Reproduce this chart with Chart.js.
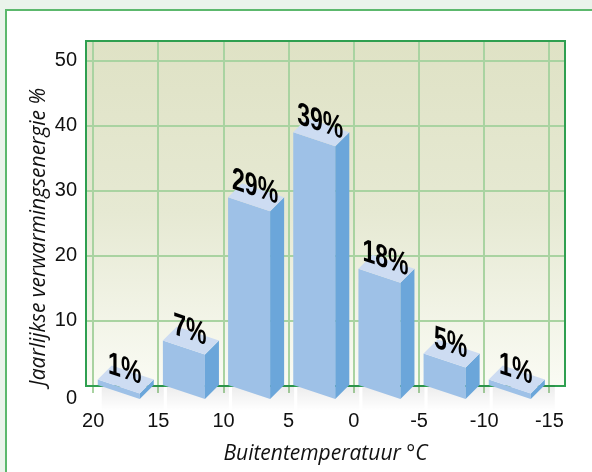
<!DOCTYPE html>
<html>
<head>
<meta charset="utf-8">
<script src="https://cdn.jsdelivr.net/npm/chart.js@4/dist/chart.umd.min.js"></script>
<style>
  html, body { margin: 0; padding: 0; background: #eaf3eb; }
  canvas { display: block; }
</style>
</head>
<body>
<canvas id="heat-chart" width="592" height="472"></canvas>
<script>
// Data
const tempEdges = [20, 15, 10, 5, 0, -5, -10, -15];   // °C, bar boundaries / x ticks
const shares = [1, 7, 29, 39, 18, 5, 1];               // % of yearly heating energy
const shareLabels = ["1%", "7%", "29%", "39%", "18%", "5%", "1%"];
const yLabelValues = [0, 10, 20, 30, 40, 50];

const gridGreen = "#a9d3a1";
const borderGreen = "#2f9f50";

// Bars sit in the middle of each temperature band
const barPoints = shares.map((v, i) => ({ x: (tempEdges[i] + tempEdges[i + 1]) / 2, y: v }));

// Background: light green page, white panel, gradient plot area
const backdrop = {
    id: "backdrop",
    beforeDraw(chart) {
        const ctx = chart.ctx;
        const a = chart.chartArea;
        ctx.save();
        ctx.fillStyle = "#eaf3eb";
        ctx.fillRect(0, 0, chart.width, chart.height);
        ctx.fillStyle = "#ffffff";
        ctx.fillRect(6, 11, chart.width - 6, chart.height - 11);
        ctx.strokeStyle = "#5cb86d";
        ctx.lineWidth = 2;
        ctx.beginPath();
        ctx.moveTo(6, chart.height);
        ctx.lineTo(6, 10);
        ctx.lineTo(chart.width, 10);
        ctx.stroke();

        const g = ctx.createLinearGradient(0, a.top, 0, a.bottom);
        g.addColorStop(0, "#dfe2c5");
        g.addColorStop(0.5, "#e6e9d3");
        g.addColorStop(1, "#fafbf4");
        ctx.fillStyle = g;
        ctx.fillRect(a.left, a.top, a.right - a.left, a.bottom - a.top);
        ctx.restore();
    },
    beforeDatasetsDraw(chart) {
        const ctx = chart.ctx;
        const a = chart.chartArea;
        ctx.save();
        ctx.strokeStyle = borderGreen;
        ctx.lineWidth = 2;
        ctx.strokeRect(a.left, a.top, a.right - a.left, a.bottom - a.top);
        ctx.restore();
    }
};

// Draw each bar as a small 3D block with its label on the top face
const blocks = {
    id: "blocks",
    afterDatasetsDraw(chart) {
        const ctx = chart.ctx;
        const meta = chart.getDatasetMeta(0);
        const slope = 1 / 3;
        ctx.save();
        meta.data.forEach((bar, i) => {
            const w = bar.width;
            const front = w * 0.75;
            const depth = w * 0.25;
            const L = bar.x - w / 2;
            const top = bar.y;
            const base = bar.base;

            // soft shadow under the block
            const sg = ctx.createLinearGradient(0, base, 0, base + 26);
            sg.addColorStop(0, "rgba(0,0,0,0.08)");
            sg.addColorStop(1, "rgba(0,0,0,0)");
            ctx.fillStyle = sg;
            ctx.fillRect(L + 4, base, w + 6, 26);

            // front face
            ctx.fillStyle = "#9ec1e7";
            ctx.beginPath();
            ctx.moveTo(L, top);
            ctx.lineTo(L + front, top + front * slope);
            ctx.lineTo(L + front, base + front * slope);
            ctx.lineTo(L, base);
            ctx.closePath();
            ctx.fill();

            // side face
            ctx.fillStyle = "#6ba6da";
            ctx.beginPath();
            ctx.moveTo(L + front, top + front * slope);
            ctx.lineTo(L + w, top + front * slope - depth);
            ctx.lineTo(L + w, base + front * slope - depth);
            ctx.lineTo(L + front, base + front * slope);
            ctx.closePath();
            ctx.fill();

            // top face
            ctx.fillStyle = "#cddcf2";
            ctx.beginPath();
            ctx.moveTo(L, top);
            ctx.lineTo(L + front, top + front * slope);
            ctx.lineTo(L + w, top + front * slope - depth);
            ctx.lineTo(L + depth, top - depth);
            ctx.closePath();
            ctx.fill();

            // label, sheared along the top face
            ctx.save();
            ctx.setTransform(1, slope, 0, 1, bar.x - 1, top - 1);
            ctx.scale(0.72, 1);
            ctx.fillStyle = "#000";
            ctx.font = "bold 32px 'Liberation Sans Narrow', 'Liberation Sans', sans-serif";
            ctx.textAlign = "center";
            ctx.textBaseline = "alphabetic";
            ctx.fillText(shareLabels[i], 0, 0);
            ctx.restore();
        });
        ctx.restore();
    }
};

new Chart(document.getElementById("heat-chart"), {
    type: "bar",
    data: {
        datasets: [{
            label: "Jaarlijkse verwarmingsenergie",
            data: barPoints,
            backgroundColor: "rgba(0,0,0,0)",
            borderWidth: 0,
            categoryPercentage: 1,
            barPercentage: 0.86
        }]
    },
    options: {
        responsive: false,
        animation: false,
        devicePixelRatio: 1,
        layout: { padding: { left: 0, top: 41, right: 27, bottom: 0 } },
        plugins: {
            legend: { display: false },
            tooltip: { enabled: false }
        },
        scales: {
            x: {
                type: "linear",
                reverse: true,
                offset: false,
                min: -16.2,
                max: 20.55,
                afterFit: (scale) => { scale.height = 86; },
                border: { display: false },
                grid: { offset: false, color: gridGreen, lineWidth: 2, tickLength: 7, tickColor: gridGreen },
                ticks: {
                    stepSize: 5,
                    includeBounds: false,
                    padding: 16,
                    color: "#111",
                    font: { family: "'Liberation Sans', Arial, sans-serif", size: 20 },
                    callback: (v) => tempEdges.includes(v) ? String(v) : ""
                },
                title: {
                    display: true,
                    text: "Buitentemperatuur °C",
                    color: "#111",
                    font: { family: "'Open Sans', sans-serif", size: 21, style: "italic" },
                    padding: { top: 0, bottom: 5 }
                }
            },
            y: {
                min: 0,
                max: 53,
                afterFit: (scale) => { scale.width = 86; },
                border: { display: false },
                grid: { color: gridGreen, lineWidth: 2, drawTicks: false },
                ticks: {
                    stepSize: 5,
                    includeBounds: false,
                    padding: 9,
                    color: "#111",
                    font: { family: "'Liberation Sans', Arial, sans-serif", size: 20 },
                    callback: (v) => {
                        if (!yLabelValues.includes(v)) return "";
                        return v === 0 ? ["", "0"] : String(v);
                    }
                },
                title: {
                    display: true,
                    text: "Jaarlijkse verwarmingsenergie %",
                    align: "start",
                    color: "#111",
                    font: { family: "'Open Sans', sans-serif", size: 21, style: "italic" },
                    padding: { top: 26, bottom: 0 }
                }
            }
        }
    },
    plugins: [backdrop, blocks]
});
</script>
</body>
</html>
